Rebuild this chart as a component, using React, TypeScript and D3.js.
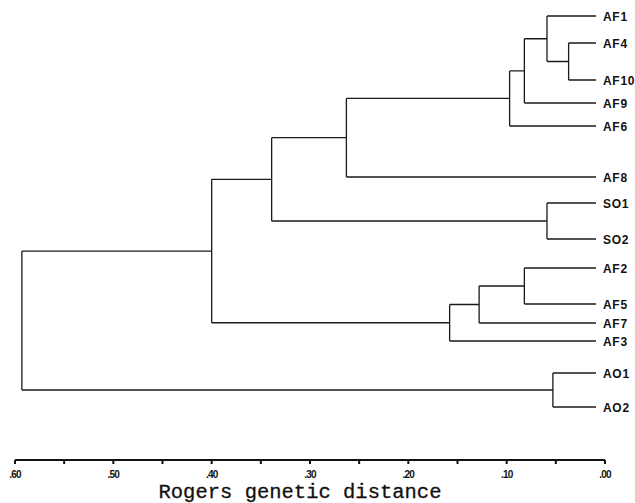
import React from 'react'
import * as d3 from 'd3'

// leaves, top to bottom
const leaves = ['AF1', 'AF4', 'AF10', 'AF9', 'AF6', 'AF8', 'SO1', 'SO2', 'AF2', 'AF5', 'AF7', 'AF3', 'AO1', 'AO2']

// clustering steps: [id, left, right, Rogers distance]
const merges: [string, string, string, number][] = [
  ['m1', 'AF4', 'AF10', 0.037],
  ['m2', 'AF1', 'm1', 0.059],
  ['m3', 'm2', 'AF9', 0.082],
  ['m4', 'm3', 'AF6', 0.097],
  ['m5', 'm4', 'AF8', 0.263],
  ['m6', 'SO1', 'SO2', 0.059],
  ['m7', 'm5', 'm6', 0.339],
  ['m8', 'AF2', 'AF5', 0.082],
  ['m9', 'm8', 'AF7', 0.128],
  ['m10', 'm9', 'AF3', 0.158],
  ['m11', 'm7', 'm10', 0.4],
  ['m12', 'AO1', 'AO2', 0.053],
  ['m13', 'm11', 'm12', 0.593],
]

const majorTicks = [0.6, 0.5, 0.4, 0.3, 0.2, 0.1, 0]
const minorTicks = [0.55, 0.45, 0.35, 0.25, 0.15, 0.05]

// layout (pixel rows of the leaves as printed)
const LEAF_Y = [16, 43, 80, 103, 126, 177, 203, 239, 268, 304, 323, 341, 373, 407]
const AXIS_Y = 460
const LEAF_GAP = 9

type TNode = { name: string; height: number; children?: TNode[] }

function buildTree(): TNode {
  const nodes: Record<string, TNode> = {}
  leaves.forEach(l => { nodes[l] = { name: l, height: 0 } })
  merges.forEach(([id, a, b, h]) => {
    nodes[id] = { name: id, height: h, children: [nodes[a], nodes[b]] }
  })
  return nodes[merges[merges.length - 1][0]]
}

export default function App() {
  const x = d3.scaleLinear().domain([0.6, 0]).range([15, 605])
  const root = d3.hierarchy(buildTree(), d => d.children)

  const ys = new Map<any, number>()
  root.eachAfter(n => {
    if (!n.children) ys.set(n, LEAF_Y[leaves.indexOf(n.data.name)])
    else {
      const c = n.children.map(k => ys.get(k) as number)
      ys.set(n, (d3.min(c)! + d3.max(c)!) / 2)
    }
  })

  const path = d3.path()
  root.each(n => {
    if (!n.children) return
    const nx = x(n.data.height)
    const c = n.children.map(k => ys.get(k) as number)
    path.moveTo(nx, d3.min(c)!)
    path.lineTo(nx, d3.max(c)!)
    n.children.forEach(k => {
      const ky = ys.get(k) as number
      path.moveTo(nx, ky)
      path.lineTo(k.children ? x(k.data.height) : x(0) - LEAF_GAP, ky)
    })
  })

  const fmt = (v: number) => d3.format('.2f')(v).replace(/^0/, '')

  return (
    <svg width={635} height={503} style={{ position: 'absolute', left: 0, top: 0, background: '#fff' }}>
      <path d={path.toString()} fill="none" stroke="#1a1a1a" strokeWidth={1.3} />
      {root.leaves().map(l => (
        <text key={l.data.name} x={x(0) - 2} y={(ys.get(l) as number) + 4.5}
          fontFamily="Liberation Sans, Arial, sans-serif" fontSize={12} fontWeight="bold" letterSpacing={0.7} fill="#111">
          {l.data.name}
        </text>
      ))}
      <line x1={x(0.6)} x2={x(0)} y1={AXIS_Y} y2={AXIS_Y} stroke="#111" strokeWidth={2} />
      {majorTicks.concat(minorTicks).map(t => (
        <line key={t} x1={x(t)} x2={x(t)} y1={AXIS_Y} y2={AXIS_Y + 4} stroke="#111" strokeWidth={2} />
      ))}
      {majorTicks.map(t => (
        <text key={t} x={x(t)} y={AXIS_Y + 18} textAnchor="middle"
          fontFamily="Liberation Sans, Arial, sans-serif" fontSize={10} fontWeight="bold" letterSpacing={-0.8} fill="#111">
          {fmt(t)}
        </text>
      ))}
      <text x={300} y={AXIS_Y + 38} textAnchor="middle"
        fontFamily="Liberation Mono, Courier New, monospace" fontSize={20.5} fill="#111"
        stroke="#111" strokeWidth={0.3}>
        Rogers genetic distance
      </text>
    </svg>
  )
}
